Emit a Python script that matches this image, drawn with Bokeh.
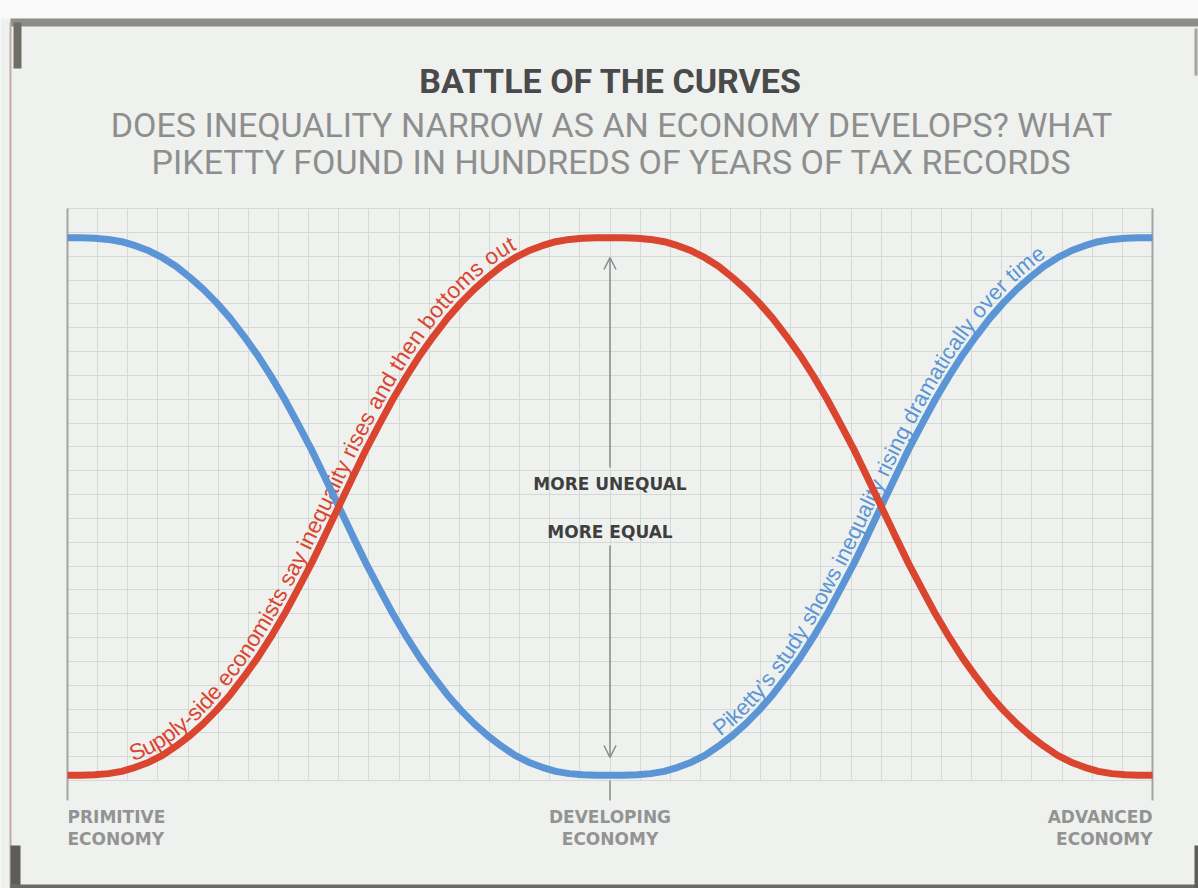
import numpy as np
from bokeh.plotting import figure
from bokeh.models import Range1d, Grid, SingleIntervalTicker, Arrow, OpenHead
from bokeh.core.properties import value
from bokeh.embed import file_html
from bokeh.resources import INLINE

# ---------------- data ----------------
development = [0, 1.25, 2.5, 3.75, 5, 6.25, 7.5, 8.75, 10, 11.25, 12.5, 13.75, 15, 16.25, 17.5,
               18.75, 20, 21.25, 22.5, 23.75, 25, 26.25, 27.5, 28.75, 30, 31.25, 32.5, 33.75,
               35, 36.25, 37.5, 38.75, 40, 41.25, 42.5, 43.75, 45, 46.25, 47.5, 48.75, 50,
               51.25, 52.5, 53.75, 55, 56.25, 57.5, 58.75, 60, 61.25, 62.5, 63.75, 65, 66.25,
               67.5, 68.75, 70, 71.25, 72.5, 73.75, 75, 76.25, 77.5, 78.75, 80, 81.25, 82.5,
               83.75, 85, 86.25, 87.5, 88.75, 90, 91.25, 92.5, 93.75, 95, 96.25, 97.5, 98.75, 100]
piketty_blue = [94.9, 94.9, 94.8, 94.6, 94.2, 93.5, 92.6, 91.4, 89.9, 88.0, 85.9, 83.5, 80.8,
                77.7, 74.4, 70.7, 66.7, 62.3, 57.8, 52.9, 47.9, 42.9, 38.0, 33.5, 29.1, 25.1,
                21.4, 18.1, 15.0, 12.3, 9.9, 7.8, 6.0, 4.4, 3.2, 2.3, 1.6, 1.2, 1.0, 0.9, 0.9,
                0.9, 1.0, 1.2, 1.6, 2.3, 3.2, 4.4, 6.0, 7.8, 9.9, 12.3, 15.0, 18.1, 21.4, 25.1,
                29.1, 33.5, 38.0, 42.9, 47.9, 52.9, 57.8, 62.3, 66.7, 70.7, 74.4, 77.7, 80.8,
                83.5, 85.9, 88.0, 89.9, 91.4, 92.6, 93.5, 94.2, 94.6, 94.8, 94.9, 94.9]
supply_red = [0.9, 0.9, 1.0, 1.2, 1.6, 2.3, 3.2, 4.4, 6.0, 7.8, 9.9, 12.3, 15.0, 18.1, 21.4,
              25.1, 29.1, 33.5, 38.0, 42.9, 47.9, 52.9, 57.8, 62.3, 66.7, 70.7, 74.4, 77.7,
              80.8, 83.5, 85.9, 88.0, 89.9, 91.4, 92.6, 93.5, 94.2, 94.6, 94.8, 94.9, 94.9,
              94.9, 94.8, 94.6, 94.2, 93.5, 92.6, 91.4, 89.9, 88.0, 85.9, 83.5, 80.8, 77.7,
              74.4, 70.7, 66.7, 62.3, 57.8, 52.9, 47.9, 42.9, 38.0, 33.5, 29.1, 25.1, 21.4,
              18.1, 15.0, 12.3, 9.9, 7.8, 6.0, 4.4, 3.2, 2.3, 1.6, 1.2, 1.0, 0.9, 0.9]
stage_x = [0, 50, 100]
stage_labels = ["PRIMITIVE\nECONOMY", "DEVELOPING\nECONOMY", "ADVANCED\nECONOMY"]
scale_labels = ["MORE UNEQUAL", "MORE EQUAL"]
title_text = "BATTLE OF THE CURVES"
subtitle_lines = ["DOES INEQUALITY NARROW AS AN ECONOMY DEVELOPS? WHAT",
                  "PIKETTY FOUND IN HUNDREDS OF YEARS OF TAX RECORDS"]
red_note = "Supply-side economists say inequality rises and then bottoms out"
blue_note = "Piketty\u2019s study shows inequality rising dramatically over time"

# ---------------- styling ----------------
BG = "#eff1ef"
GRID = "#d5d9d5"
RED = "#da4530"
BLUE = "#5b95d6"
W, H = 1198, 888
GX0, GX1 = 67, 1152      # grid left/right in px
GY0, GY1 = 780, 208      # grid bottom/top in px
SX = (GX1 - GX0) / 100.0
SY = (GY0 - GY1) / 100.0


def X(px):
    return (px - GX0) / SX


def Y(py):
    return (GY0 - py) / SY


p = figure(width=W, height=H, x_range=Range1d(X(0), X(W)), y_range=Range1d(Y(H), Y(0)),
           x_axis_type=None, y_axis_type=None, toolbar_location=None, output_backend="svg",
           min_border=0, outline_line_color=None, background_fill_color=BG,
           border_fill_color=BG)
p.title.visible = False

# page decorations (scan frame)
p.quad(left=[X(0)], right=[X(W)], top=[Y(0)], bottom=[Y(18)], color="#fafafa", line_color=None)
p.quad(left=[X(10)], right=[X(W)], top=[Y(18)], bottom=[Y(26)], color="#8e8e89", line_color=None)
p.quad(left=[X(13)], right=[X(21)], top=[Y(22)], bottom=[Y(68)], color="#6e6e69", line_color=None)
p.quad(left=[X(9)], right=[X(11)], top=[Y(22)], bottom=[Y(H)], color="#c4aaa0", line_color=None)
p.quad(left=[X(10)], right=[X(20)], top=[Y(845)], bottom=[Y(H)], color="#5c5c58", line_color=None)
p.quad(left=[X(10)], right=[X(W)], top=[Y(884)], bottom=[Y(H)], color="#6a6a66", line_color=None)
p.quad(left=[X(1194)], right=[X(W)], top=[Y(845)], bottom=[Y(H)], color="#5c5c58", line_color=None)
p.quad(left=[X(1194)], right=[X(1197)], top=[Y(28)], bottom=[Y(75)], color="#a5a5a0", line_color=None)

# grid
xg = Grid(dimension=0, ticker=SingleIntervalTicker(interval=100 / 36), bounds=(0, 100),
          cross_bounds=(0, 100), grid_line_color=GRID, grid_line_width=1)
yg = Grid(dimension=1, ticker=SingleIntervalTicker(interval=100 / 24), bounds=(0, 100),
          cross_bounds=(0, 100), grid_line_color=GRID, grid_line_width=1)
p.add_layout(xg)
p.add_layout(yg)

# frame verticals / stage ticks
p.segment(x0=stage_x, y0=[Y(800)] * 3, x1=stage_x, y1=[100, 0, 100],
          line_color="#a3a3a3", line_width=2)

# curved annotations along the curves
ARIAL = {' ': 278, 'a': 556, 'b': 556, 'c': 500, 'd': 556, 'e': 556, 'f': 278, 'g': 556,
         'h': 556, 'i': 222, 'j': 222, 'k': 500, 'l': 222, 'm': 833, 'n': 556, 'o': 556,
         'p': 556, 'q': 556, 'r': 333, 's': 500, 't': 278, 'u': 556, 'v': 500, 'w': 722,
         'x': 500, 'y': 500, 'z': 500, 'S': 667, 'P': 667, '-': 333, '\u2019': 222}


def curve_text(xs, ys, txt, x_start_px, x_end_px, gap, color):
    px = np.asarray(xs, float) * SX
    py = np.asarray(ys, float) * SY
    seg = np.hypot(np.diff(px), np.diff(py))
    s = np.concatenate([[0.0], np.cumsum(seg)])
    s0 = np.interp(x_start_px - GX0, px, s)
    s1 = np.interp(x_end_px - GX0, px, s)
    w = np.array([ARIAL.get(c, 556) for c in txt]) / 1000.0
    fs = (s1 - s0) / w.sum()
    cen = s0 + (np.cumsum(w) - w / 2) * fs
    h = 12
    xa, ya = np.interp(cen - h, s, px), np.interp(cen - h, s, py)
    xb, yb = np.interp(cen + h, s, px), np.interp(cen + h, s, py)
    ang = np.arctan2(yb - ya, xb - xa)
    xc, yc = np.interp(cen, s, px), np.interp(cen, s, py)
    off = gap + 0.36 * fs
    xo = xc - off * np.sin(ang)
    yo = yc + off * np.cos(ang)
    p.text(x=list(xo / SX), y=list(yo / SY), text=list(txt), angle=list(ang),
           text_align="center", text_baseline="middle", text_color=color,
           text_font=value("Liberation Sans"), text_font_size=f"{fs:.1f}px")


curve_text(development, supply_red, red_note, 135, 520, 6, RED)
curve_text(development, piketty_blue, blue_note, 724, 1050, 6, BLUE)

# curves
p.line(development, piketty_blue, line_color=BLUE, line_width=7)
p.line(development, supply_red, line_color=RED, line_width=7)

# double arrow in the middle
ARW = "#8a8a8a"
p.add_layout(Arrow(end=OpenHead(size=12, line_color=ARW, line_width=1.5),
                   x_start=50, y_start=Y(467), x_end=50, y_end=Y(257),
                   line_color=ARW, line_width=1.5))
p.add_layout(Arrow(end=OpenHead(size=12, line_color=ARW, line_width=1.5),
                   x_start=50, y_start=Y(545), x_end=50, y_end=Y(757),
                   line_color=ARW, line_width=1.5))

p.text(x=[50, 50], y=[Y(483), Y(531)], text=scale_labels, text_align="center",
       text_baseline="middle", text_color="#3f3f3f", text_font=value("DejaVu Sans"),
       text_font_style="bold", text_font_size="17px")

# stage labels
for sx, lab, al in zip(stage_x, stage_labels, ["left", "center", "right"]):
    p.text(x=[sx], y=[Y(806)], text=[lab], text_align=al, text_baseline="top",
           text_color="#939393", text_font=value("DejaVu Sans"), text_font_style="bold",
           text_font_size="17px", text_line_height=1.12)

# titles
p.text(x=[X(610)], y=[Y(80)], text=[title_text], text_align="center", text_baseline="middle",
       text_color="#4a4a4a", text_font=value("Roboto"), text_font_style="bold",
       text_font_size="34px")
p.text(x=[X(611), X(611)], y=[Y(124), Y(161)], text=subtitle_lines, text_align="center",
       text_baseline="middle", text_color="#8e8e8e", text_font=value("Roboto"),
       text_font_size="34px")

open("out.html", "w").write(file_html(p, INLINE))
